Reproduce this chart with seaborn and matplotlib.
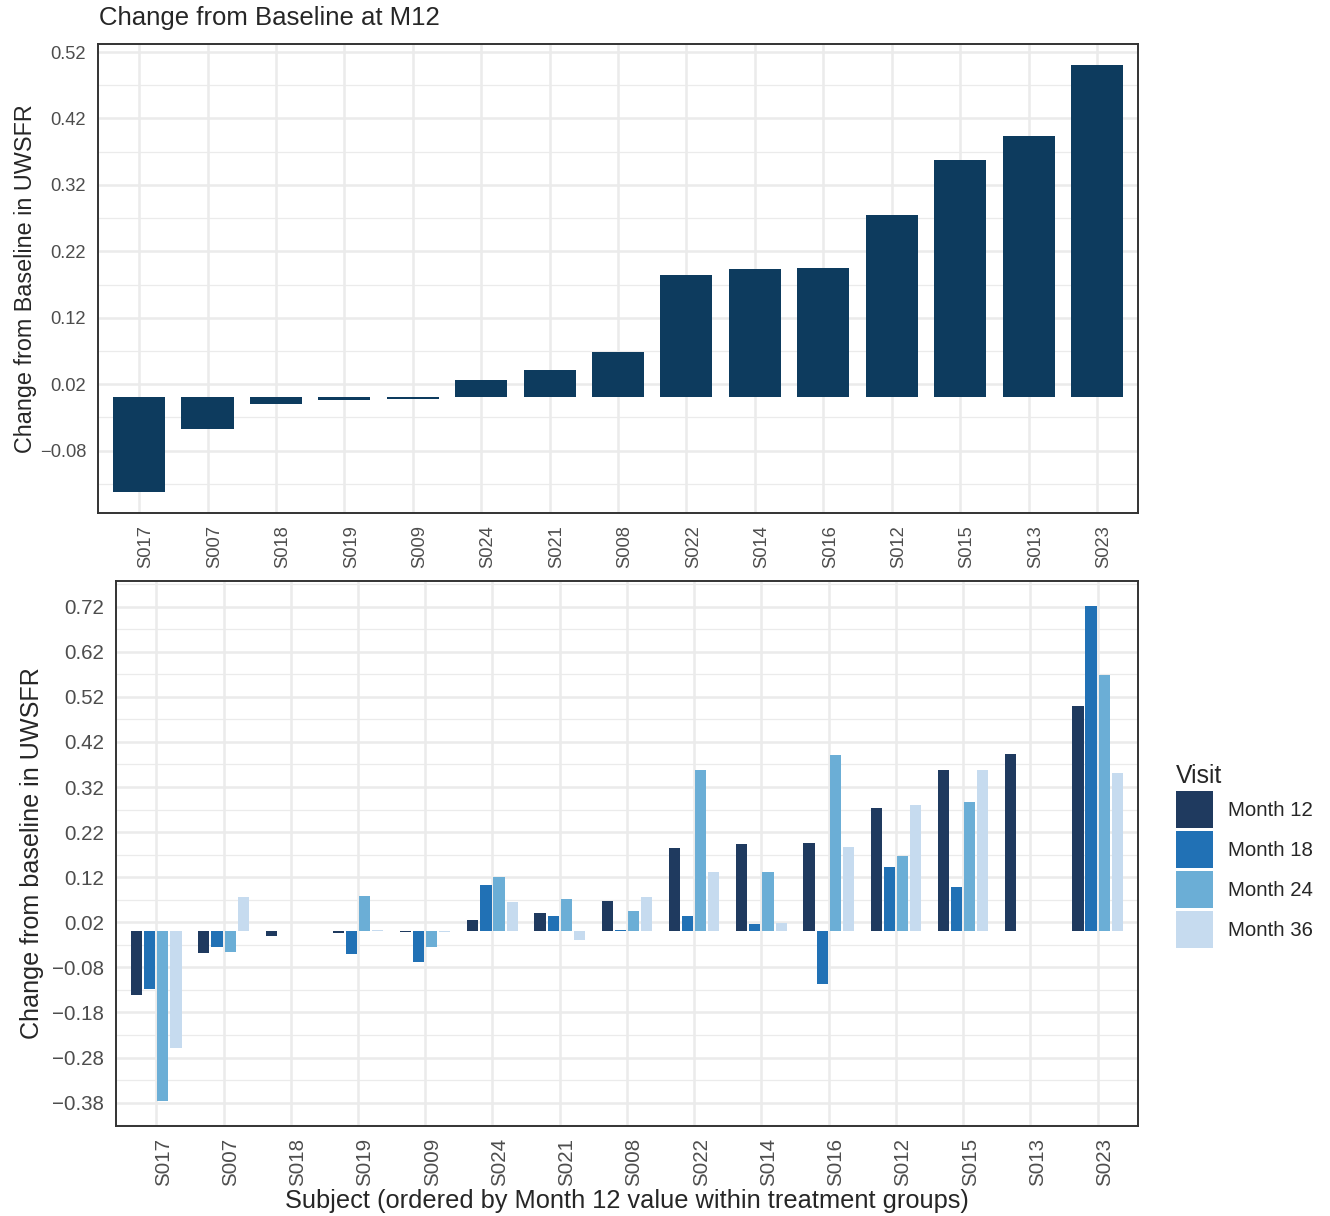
import numpy as np
import pandas as pd
import matplotlib
matplotlib.use('Agg')
import matplotlib.pyplot as plt
from matplotlib.ticker import FixedLocator, FuncFormatter
from matplotlib.transforms import ScaledTranslation
import seaborn as sns

# Subjects in plotting order (by Month 12 value)
subjects = ['S017', 'S007', 'S018', 'S019', 'S009', 'S024', 'S021', 'S008',
            'S022', 'S014', 'S016', 'S012', 'S015', 'S013', 'S023']

# Change from baseline per visit (NaN = no visit)
month12 = [-0.142, -0.048, -0.010, -0.004, -0.002, 0.026, 0.041, 0.068,
           0.184, 0.193, 0.195, 0.274, 0.357, 0.393, 0.500]
month18 = [-0.128, -0.034, np.nan, -0.051, -0.069, 0.103, 0.033, 0.002,
           0.033, 0.017, -0.118, 0.143, 0.099, np.nan, 0.722]
month24 = [-0.377, -0.045, np.nan, 0.079, -0.035, 0.121, 0.072, 0.046,
           0.357, 0.131, 0.390, 0.168, 0.287, np.nan, 0.569]
month36 = [-0.258, 0.077, np.nan, 0.002, -0.002, 0.066, -0.019, 0.075,
           0.131, 0.018, 0.186, 0.279, 0.357, np.nan, 0.352]

visits = ['Month 12', 'Month 18', 'Month 24', 'Month 36']
visit_colors = ['#1f3a5f', '#2171b5', '#6baed6', '#c6dbef']
top_color = '#0d3b5e'

top_ticks = np.round(np.arange(-0.08, 0.53, 0.10), 2)
bottom_ticks = np.round(np.arange(-0.38, 0.73, 0.10), 2)

sns.set_style('white')
plt.rcParams['font.family'] = ['Liberation Sans', 'DejaVu Sans']

long_df = pd.DataFrame({
    'subject': subjects * 4,
    'visit': np.repeat(visits, len(subjects)),
    'value': month12 + month18 + month24 + month36,
}).dropna()


def expand_limits(values):
    lo = min(np.nanmin(values), 0)
    hi = max(np.nanmax(values), 0)
    pad = 0.05 * (hi - lo)
    return lo - pad, hi + pad


def style_axes(ax, ticks, tick_size):
    ax.set_xlim(-0.6, len(subjects) - 0.4)
    ax.yaxis.set_major_locator(FixedLocator(ticks))
    minor = np.concatenate([[ticks[0] - 0.05], ticks + 0.05])
    ax.yaxis.set_minor_locator(FixedLocator(minor))
    ax.yaxis.set_major_formatter(
        FuncFormatter(lambda v, p: f'{v:.2f}'.replace('-', '\u2212')))
    ax.grid(which='major', color='#EBEBEB', linewidth=1.8)
    ax.grid(which='minor', axis='y', color='#EBEBEB', linewidth=0.9)
    ax.set_axisbelow(True)
    for s in ax.spines.values():
        s.set_visible(True)
        s.set_color('#333333')
        s.set_linewidth(1.4)
    ax.tick_params(which='major', length=5, width=1.4, color='#333333',
                   labelcolor='#4D4D4D', labelsize=tick_size)
    ax.tick_params(which='minor', length=0)
    ax.tick_params(axis='x', labelrotation=90)
    # ggplot-like placement of rotated labels (slightly right of the tick)
    shift = ScaledTranslation(5 / 72, 0, ax.figure.dpi_scale_trans)
    for lab in ax.get_xticklabels():
        lab.set_transform(lab.get_transform() + shift)


fig = plt.figure(figsize=(13.3, 12.16), dpi=100)

# Top panel: Month 12 change
ax1 = fig.add_axes([0.0737, 0.5781, 0.7820, 0.3857])
sns.barplot(x=subjects, y=month12, order=subjects, color=top_color,
            saturation=1, width=0.76, linewidth=0, ax=ax1)
ax1.set_ylim(*expand_limits(month12))
style_axes(ax1, top_ticks, 13.2)
ax1.set_ylabel('Change from Baseline in UWSFR', fontsize=16.8, labelpad=2)
ax1.set_xlabel('')
fig.text(99 / 1330, 1 - 18 / 1216, 'Change from Baseline at M12',
         fontsize=18.5, va='center', ha='left')

# Bottom panel: all visits
ax2 = fig.add_axes([0.0872, 0.0740, 0.7684, 0.4482])
sns.barplot(data=long_df, x='subject', y='value', hue='visit',
            order=subjects, hue_order=visits, palette=visit_colors,
            saturation=1, width=0.78, gap=0.15, linewidth=0, ax=ax2)
ax2.set_ylim(*expand_limits(long_df['value'].values))
style_axes(ax2, bottom_ticks, 14.8)
ax2.set_ylabel('Change from baseline in UWSFR', fontsize=18.1, labelpad=6)
ax2.set_xlabel('Subject (ordered by Month 12 value within treatment groups)',
               fontsize=18.3, labelpad=2)

handles, labels = ax2.get_legend_handles_labels()
ax2.get_legend().remove()
leg = fig.legend(handles, labels, title='Visit', loc='center left',
                 bbox_to_anchor=(1158 / 1330, 1 - 856 / 1216), frameon=False,
                 fontsize=14.7, title_fontsize=17.9, handlelength=1.8,
                 handleheight=2.41, labelspacing=0.15, handletextpad=0.75,
                 alignment='left')

fig.savefig('out.png', dpi=100)
